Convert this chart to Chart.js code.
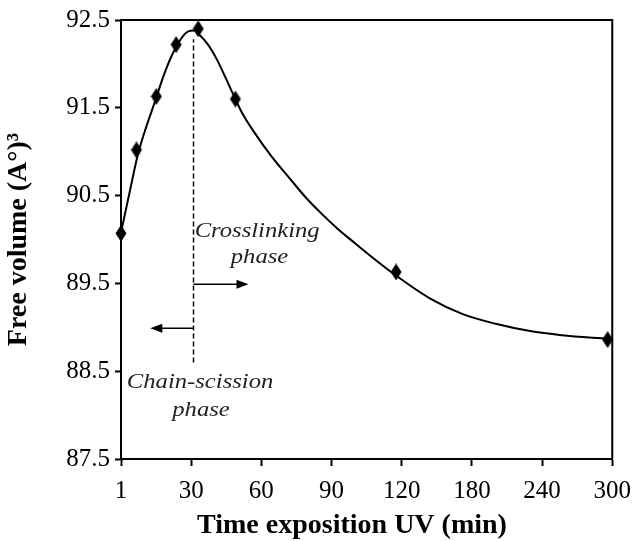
<!DOCTYPE html>
<html>
<head>
<meta charset="utf-8">
<script src="https://cdn.jsdelivr.net/npm/chart.js@4"></script>
<style>
body { margin: 0; background: #fff; }
canvas { display: block; }
</style>
</head>
<body>
<canvas id="myChart" width="641" height="541"></canvas>
<script>
// x axis is piecewise: tick labels evenly spaced
const timeTicks = [1, 30, 60, 90, 120, 180, 240, 300];
const yTicks = [87.5, 88.5, 89.5, 90.5, 91.5, 92.5];

// measured points (time in min, free volume)
const pointTimes = [1, 7.4, 15.6, 23.8, 33, 48.9, 117.6, 296];
const pointValues = [90.07, 91.02, 91.63, 92.22, 92.40, 91.60, 89.63, 88.86];

// fitted curve
const curveTimes = [1, 4.5, 8.0, 11.4, 14.9, 18.4, 21.9, 25.4, 28.8, 31.2, 33.6, 37.2, 40.8, 44.4, 48, 51.6, 57, 64.5, 72, 78.6, 85.5, 92.7, 99.9, 106.8, 117, 144, 172.2, 200.4, 228.6, 256.8, 296.4];
const curveValues = [90.08, 90.53, 90.97, 91.28, 91.56, 91.85, 92.09, 92.27, 92.37, 92.38, 92.33, 92.22, 92.06, 91.86, 91.65, 91.45, 91.22, 90.94, 90.70, 90.49, 90.30, 90.12, 89.96, 89.81, 89.60, 89.33, 89.15, 89.04, 88.96, 88.91, 88.87];

// dashed separator and arrows
const dashTime = 31;
const dashRange = [88.6, 92.28];
const arrowFrom = [31, 31];
const arrowTo = [54.5, 13.1];
const arrowValues = [89.49, 88.99];

// annotation texts
const noteTexts = ["Crosslinking", "phase", "Chain-scission", "phase"];
const noteTimes = [58.2, 59.2, 33.8, 34.2];
const noteValues = [90.10, 89.80, 88.37, 88.05];

const xTitle = "Time exposition UV (min)";
const yTitle = "Free volume (A°)³";

function toPos(t) {
    for (let i = 0; i < timeTicks.length - 1; i++) {
        if (t <= timeTicks[i + 1]) {
            return i + (t - timeTicks[i]) / (timeTicks[i + 1] - timeTicks[i]);
        }
    }
    return timeTicks.length - 1;
}

// tall diamond marker
function makeDiamond() {
    let c = document.createElement("canvas");
    c.width = 12;
    c.height = 17;
    let g = c.getContext("2d");
    g.fillStyle = "#000";
    g.beginPath();
    g.moveTo(6, 0);
    g.lineTo(11.5, 8.5);
    g.lineTo(6, 17);
    g.lineTo(0.5, 8.5);
    g.closePath();
    g.fill();
    return c;
}

const serif = "'Liberation Serif', 'Times New Roman', serif";

const decorPlugin = {
    id: "decor",
    afterDatasetsDraw(chart) {
        let ctx = chart.ctx;
        let xs = chart.scales.x;
        let ys = chart.scales.y;
        let area = chart.chartArea;
        ctx.save();
        // top and right frame
        ctx.strokeStyle = "#000";
        ctx.lineWidth = 2;
        ctx.beginPath();
        ctx.moveTo(area.left, area.top);
        ctx.lineTo(area.right, area.top);
        ctx.lineTo(area.right, area.bottom);
        ctx.stroke();

        // arrows
        ctx.lineWidth = 1.5;
        ctx.fillStyle = "#000";
        arrowValues.forEach((v, i) => {
            let x1 = xs.getPixelForValue(toPos(arrowFrom[i]));
            let x2 = xs.getPixelForValue(toPos(arrowTo[i]));
            let y = ys.getPixelForValue(v);
            let dir = x2 > x1 ? 1 : -1;
            ctx.beginPath();
            ctx.moveTo(x1, y);
            ctx.lineTo(x2 - dir * 10, y);
            ctx.stroke();
            ctx.beginPath();
            ctx.moveTo(x2, y);
            ctx.lineTo(x2 - dir * 12, y - 4.5);
            ctx.lineTo(x2 - dir * 12, y + 4.5);
            ctx.closePath();
            ctx.fill();
        });

        // x title (sits a little left of the plot centre in the original)
        ctx.fillStyle = "#000";
        ctx.font = "bold 28px " + serif;
        ctx.textAlign = "center";
        ctx.textBaseline = "middle";
        ctx.fillText(xTitle, 352, 526);

        // notes
        ctx.fillStyle = "#222";
        ctx.font = "italic 22px " + serif;
        noteTexts.forEach((t, i) => {
            let x = xs.getPixelForValue(toPos(noteTimes[i]));
            let y = ys.getPixelForValue(noteValues[i]);
            ctx.save();
            ctx.translate(x, y);
            ctx.scale(1.12, 1);
            ctx.fillText(t, 0, 0);
            ctx.restore();
        });
        ctx.restore();
    },
};

const diamond = makeDiamond();

new Chart(document.getElementById("myChart"), {
    type: "scatter",
    data: {
        datasets: [
            {
                type: "line",
                data: dashRange.map((v) => ({ x: toPos(dashTime), y: v })),
                borderColor: "#000",
                borderWidth: 1.5,
                borderDash: [5, 3],
                pointRadius: 0,
            },
            {
                type: "line",
                data: curveTimes.map((t, i) => ({ x: toPos(t), y: curveValues[i] })),
                borderColor: "#000",
                borderWidth: 2,
                cubicInterpolationMode: "monotone",
                pointRadius: 0,
            },
            {
                data: pointTimes.map((t, i) => ({ x: toPos(t), y: pointValues[i] })),
                pointStyle: diamond,
                pointRadius: 7,
                backgroundColor: "#000",
                borderColor: "#000",
                showLine: false,
            },
        ],
    },
    options: {
        responsive: false,
        animation: false,
        devicePixelRatio: 1,
        clip: false,
        layout: {
            padding: { top: 16, right: 23, left: 0, bottom: 0 },
        },
        plugins: {
            legend: { display: false },
            tooltip: { enabled: false },
        },
        scales: {
            x: {
                type: "linear",
                min: 0,
                max: timeTicks.length - 1,
                afterBuildTicks: (scale) => {
                    scale.ticks = timeTicks.map((t, i) => ({ value: i }));
                },
                afterFit: (scale) => {
                    scale.height = 82;
                },
                ticks: {
                    color: "#000",
                    padding: 10,
                    maxRotation: 0,
                    font: { family: serif, size: 25 },
                    callback: (value) => timeTicks[value],
                },
                grid: {
                    drawOnChartArea: false,
                    drawTicks: true,
                    tickLength: 7,
                    tickColor: "#000",
                    tickWidth: 2,
                },
                border: { display: true, color: "#000", width: 2 },
            },
            y: {
                min: 87.5,
                max: 92.5,
                afterBuildTicks: (scale) => {
                    scale.ticks = yTicks.map((v) => ({ value: v }));
                },
                afterFit: (scale) => {
                    scale.width = 121;
                },
                ticks: {
                    color: "#000",
                    padding: 5,
                    font: { family: serif, size: 25 },
                    callback: (value) => value.toFixed(1),
                },
                grid: {
                    drawOnChartArea: false,
                    drawTicks: true,
                    tickLength: 6,
                    tickColor: "#000",
                    tickWidth: 2,
                },
                border: { display: true, color: "#000", width: 2 },
                title: {
                    display: true,
                    text: yTitle,
                    color: "#000",
                    font: { family: serif, size: 28, weight: "bold" },
                    padding: { top: 2, bottom: 0 },
                },
            },
        },
    },
    plugins: [decorPlugin],
});
</script>
</body>
</html>
